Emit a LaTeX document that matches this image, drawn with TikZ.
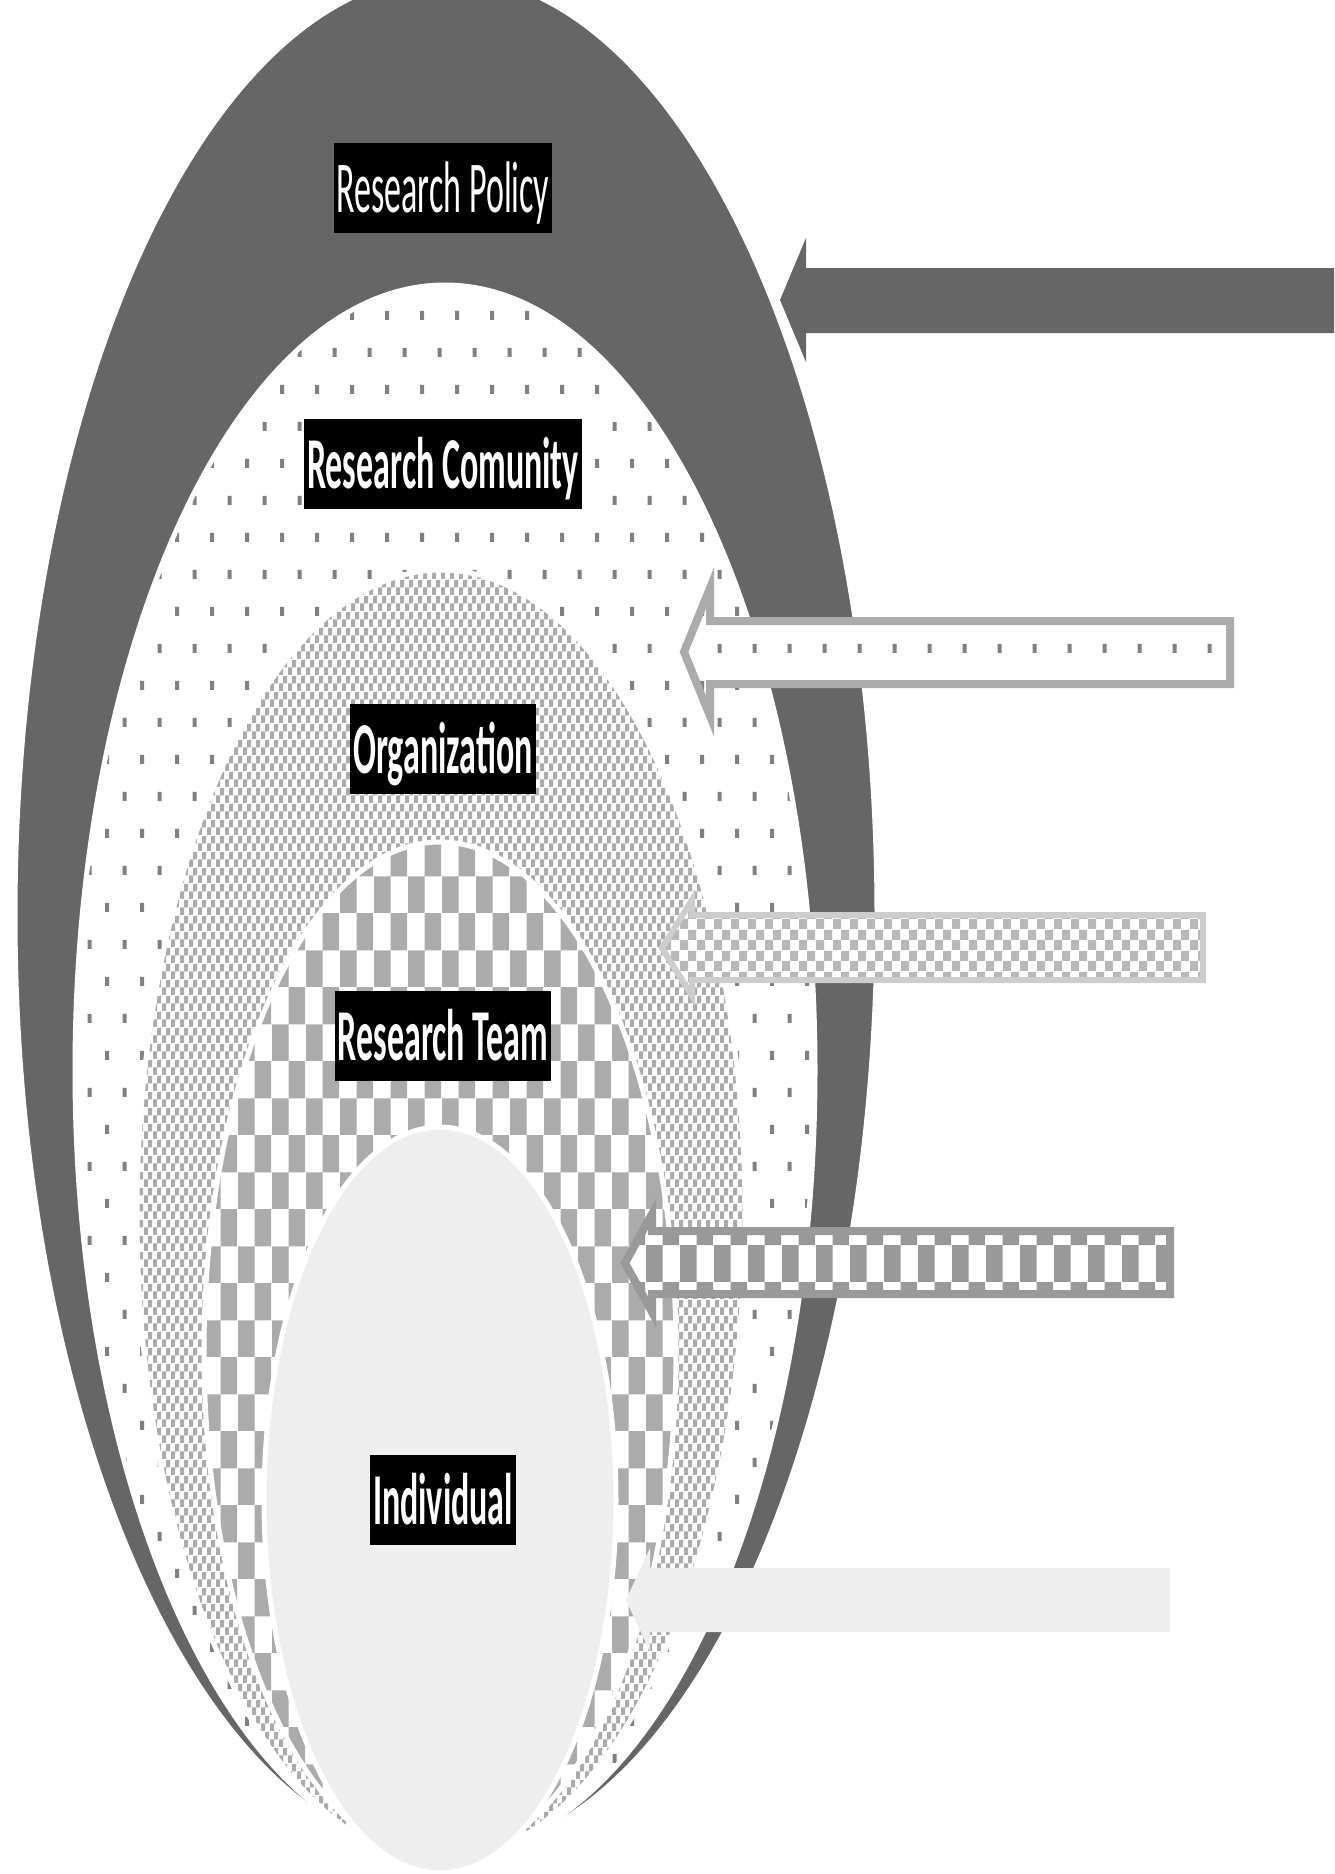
\documentclass[tikz,border=0pt]{standalone}
\usepackage{fontspec}
\usetikzlibrary{patterns}
\newfontfamily\labfont{Carlito}

\definecolor{policygray}{HTML}{666666}
\definecolor{dotgray}{HTML}{808080}
\definecolor{checkgray}{HTML}{ABABAB}
\definecolor{teamgray}{HTML}{999999}
\definecolor{indivgray}{HTML}{EEEEEE}

% labels are set tall and narrow
\newcommand\tallbox[1]{\scalebox{1}[2.15]{#1}}

% small upright ticks, staggered
\pgfdeclarepatternformonly{ticks}{\pgfpoint{-1pt}{-1pt}}{\pgfpoint{36pt}{75pt}}{\pgfpoint{35pt}{74pt}}{%
  \pgfpathrectangle{\pgfpoint{0pt}{0pt}}{\pgfpoint{4pt}{9pt}}%
  \pgfpathrectangle{\pgfpoint{17.5pt}{37pt}}{\pgfpoint{4pt}{9pt}}%
  \pgfusepath{fill}}

% checkerboards: name, cell width, cell height
\newcommand\declchecker[3]{%
  \pgfdeclarepatternformonly{#1}{\pgfpointorigin}{\pgfpoint{2*#2}{2*#3}}{\pgfpoint{2*#2}{2*#3}}{%
    \pgfpathrectangle{\pgfpointorigin}{\pgfpoint{#2}{#3}}%
    \pgfpathrectangle{\pgfpoint{#2}{#3}}{\pgfpoint{#2}{#3}}%
    \pgfusepath{fill}}}
\declchecker{finecheck}{4.5pt}{8pt}
\declchecker{coarsecheck}{17pt}{37pt}
\declchecker{orgarrowcheck}{8.5pt}{10.5pt}

\begin{document}
\begin{tikzpicture}[x=1pt, y=-1pt,
    ring/.style={draw=white, line width=5pt},
    lab/.style={fill=black, text=white, inner xsep=3pt, inner ysep=0pt,
      minimum height=90pt, text height=56pt, text depth=8pt,
      font=\labfont\fontsize{34}{40}\selectfont\bfseries}]
  \useasboundingbox (0,0) rectangle (1334,1874);

  % nested levels
  \draw[ring, fill=policygray] (446,915) ellipse [x radius=431, y radius=940];
  \draw[ring, preaction={fill=white}, pattern=ticks, pattern color=dotgray]
    (445,1070) ellipse [x radius=370, y radius=785];
  \draw[ring, preaction={fill=white}, pattern=finecheck, pattern color=checkgray]
    (441,1215) ellipse [x radius=304, y radius=645];
  \draw[ring, preaction={fill=white}, pattern=coarsecheck, pattern color=checkgray]
    (440,1351) ellipse [x radius=236, y radius=509];
  \draw[ring, fill=indivgray] (440,1500) ellipse [x radius=176, y radius=373];

  \node[lab, font=\labfont\fontsize{34}{40}\selectfont] (policy) at (443,188) {\tallbox{Research Policy}};
  \node[lab] (community) at (443,464) {\tallbox{Research Comunity}};
  \node[lab] (organization) at (443,749) {\tallbox{Organization}};
  \node[lab] (team) at (443,1036) {\tallbox{Research Team}};
  \node[lab] (individual) at (443,1500) {\tallbox{Individual}};

  % influence arrows
  \fill[policygray] (1334,268) -- (806,268) -- (806,238) -- (780,300)
    -- (806,362) -- (806,333) -- (1334,333) -- cycle;
  \draw[draw=checkgray, line width=8pt, preaction={fill=white}, pattern=ticks, pattern color=dotgray]
    (1230,621) -- (710,621) -- (710,588) -- (684,652) -- (710,716) -- (710,684) -- (1230,684) -- cycle;
  \draw[draw=checkgray!60, line width=6pt, preaction={fill=white}, pattern=orgarrowcheck, pattern color=checkgray!85]
    (1203,915) -- (692,915) -- (692,900) -- (662,948) -- (692,996) -- (692,980) -- (1203,980) -- cycle;
  \draw[draw=teamgray, line width=8pt, preaction={fill=white}, pattern=coarsecheck, pattern color=teamgray]
    (1170,1231) -- (652,1231) -- (652,1214) -- (625,1263) -- (652,1312) -- (652,1294) -- (1170,1294) -- cycle;
  \fill[indivgray] (1170,1568) -- (650,1568) -- (650,1548) -- (626,1600) -- (650,1652)
    -- (650,1632) -- (1170,1632) -- cycle;
\end{tikzpicture}
\end{document}
